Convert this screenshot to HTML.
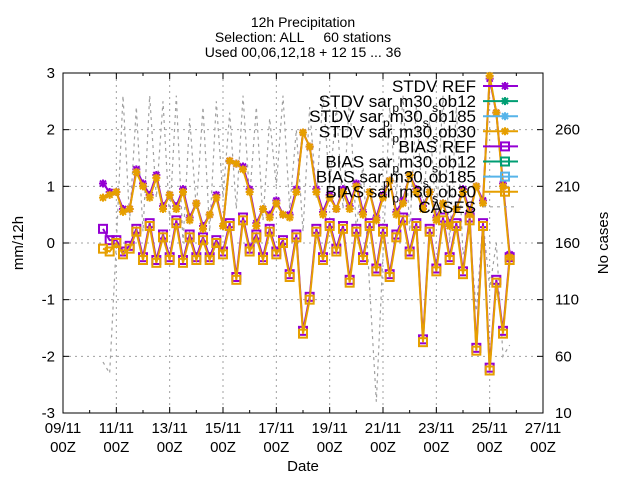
<!DOCTYPE html>
<html><head><meta charset="utf-8"><style>
body{margin:0;background:#fff}
svg{display:block;font-family:"Liberation Sans",sans-serif}
</style></head><body>
<svg id="c" width="640" height="480">
<rect width="640" height="480" fill="#fff"/>
<g id="grid"></g>
<g id="axes"></g>
<g id="series"></g>
<g id="legend"></g>
<text x="303" y="27" font-size="14" text-anchor="middle">12h Precipitation</text>
<text x="303" y="42" font-size="14" text-anchor="middle" xml:space="preserve">Selection: ALL     60 stations</text>
<text x="303" y="57" font-size="14" text-anchor="middle">Used 00,06,12,18 + 12 15 ... 36</text>
<text x="303" y="471" font-size="15" text-anchor="middle">Date</text>
<text transform="translate(23,243) rotate(-90)" font-size="15" text-anchor="middle">mm/12h</text>
<text transform="translate(608,243) rotate(-90)" font-size="15" text-anchor="middle">No cases</text>
</svg>
<script>
const xTickDays=[9,11,13,15,17,19,21,23,25,27];
const xTickLabels=["09/11","11/11","13/11","15/11","17/11","19/11","21/11","23/11","25/11","27/11"];
const yTicks=[-3,-2,-1,0,1,2,3];
const y2Ticks=[10,60,110,160,210,260];
const startDay=10.5, stepDay=0.25;
const stdvOb30=[0.8,0.85,0.9,0.55,0.6,1.25,1.0,0.8,1.15,0.6,0.85,0.6,0.9,0.4,0.7,0.25,0.5,0.8,0.3,1.45,1.4,1.3,0.9,0.3,0.6,0.45,0.7,0.5,0.45,0.9,1.95,1.7,0.9,0.5,0.8,0.6,0.9,0.6,1.0,0.5,0.9,0.4,0.8,1.1,0.5,0.7,1.2,0.9,0.6,0.9,0.4,0.7,0.3,0.6,0.9,0.5,1.0,0.7,2.95,2.3,1.0,-0.25];
const stdvRef=[1.05,0.9,0.9,0.6,0.6,1.3,1.05,0.85,1.2,0.65,0.85,0.65,0.95,0.45,0.7,0.3,0.5,0.85,0.3,1.45,1.4,1.35,0.95,0.35,0.6,0.5,0.75,0.5,0.5,0.95,1.95,1.7,0.95,0.55,0.85,0.6,0.95,0.65,1.05,0.55,0.9,0.45,0.85,1.1,0.55,0.75,1.2,0.95,0.65,0.9,0.45,0.7,0.35,0.6,0.95,0.55,1.0,0.75,2.9,2.3,1.05,-0.2];
const biasOb30=[-0.1,-0.15,0.0,-0.2,-0.1,0.2,-0.3,0.3,-0.35,0.1,-0.3,0.35,-0.35,0.1,-0.3,0.05,-0.3,0.0,-0.2,0.3,-0.65,0.4,-0.15,0.1,-0.3,0.2,-0.2,0.0,-0.6,0.1,-1.6,-1.0,0.2,-0.3,0.3,-0.15,0.25,-0.7,0.2,-0.3,0.3,-0.5,0.2,-0.6,0.1,0.4,-0.2,0.3,-1.75,0.2,-0.5,0.4,-0.3,0.3,-0.55,0.4,-1.9,0.3,-2.25,-0.7,-1.6,-0.3];
const biasRef=[0.25,0.05,0.05,-0.15,-0.05,0.25,-0.25,0.35,-0.3,0.15,-0.25,0.4,-0.3,0.15,-0.25,0.1,-0.25,0.05,-0.15,0.35,-0.6,0.45,-0.1,0.15,-0.25,0.25,-0.15,0.05,-0.55,0.15,-1.55,-0.95,0.25,-0.25,0.35,-0.1,0.3,-0.65,0.25,-0.25,0.35,-0.45,0.25,-0.55,0.15,0.45,-0.15,0.35,-1.7,0.25,-0.45,0.45,-0.25,0.35,-0.5,0.45,-1.85,0.35,-2.2,-0.65,-1.55,-0.25];
const cases=[55,45,160,290,180,280,170,290,200,285,180,290,160,270,190,280,170,285,200,275,190,290,200,280,180,270,210,290,190,260,170,280,200,290,210,280,190,290,170,230,120,20,150,280,200,290,170,280,190,270,180,290,160,280,150,170,100,180,120,160,60,70];

const NS="http://www.w3.org/2000/svg";
const L=63,R=543,T=73,B=413;
const xs=d=>L+(d-9)/18*(R-L);
const ys=v=>B-(v+3)/6*(B-T);
const y2s=v=>B-(v-10)/300*(B-T);
function mk(tag,parent,attrs){const e=document.createElementNS(NS,tag);for(const k in attrs)e.setAttribute(k,attrs[k]);parent.appendChild(e);return e;}
const grid=document.getElementById('grid'),axes=document.getElementById('axes'),ser=document.getElementById('series'),leg=document.getElementById('legend');

xTickDays.forEach((d,i)=>{const x=xs(d);
 if(i>0&&i<xTickDays.length-1){const g=mk('line',grid,{x1:x,x2:x,y1:T,y2:B,stroke:'#a0a0a0','stroke-dasharray':'2,4'});}
 mk('line',axes,{x1:x,x2:x,y1:B,y2:B-6,stroke:'#000'});mk('line',axes,{x1:x,x2:x,y1:T,y2:T+6,stroke:'#000'});
 const t=mk('text',axes,{x:x,y:433,'font-size':15,'text-anchor':'middle'});t.textContent=xTickLabels[i];
 
 const t2=mk('text',axes,{x:x,y:452,'font-size':15,'text-anchor':'middle'});t2.textContent='00Z';
 
});
for(let d=10;d<27;d+=2){mk('line',axes,{x1:xs(d),x2:xs(d),y1:B,y2:B-3,stroke:'#000'});mk('line',axes,{x1:xs(d),x2:xs(d),y1:T,y2:T+3,stroke:'#000'});}
yTicks.forEach(v=>{const y=ys(v);
 if(v>-3&&v<3){const g=mk('line',grid,{x1:L,x2:R,y1:y,y2:y,stroke:'#a0a0a0','stroke-dasharray':'2,4'});}
 mk('line',axes,{x1:L,x2:L+6,y1:y,y2:y,stroke:'#000'});
 const t=mk('text',axes,{x:L-8,y:y+5,'font-size':15,'text-anchor':'end'});t.textContent=v;
 
});
y2Ticks.forEach(v=>{const y=y2s(v);
 mk('line',axes,{x1:R,x2:R-6,y1:y,y2:y,stroke:'#000'});
 const t=mk('text',axes,{x:R+12,y:y+5,'font-size':15});t.textContent=v;
 
});
const fr=mk('rect',axes,{x:L,y:T,width:R-L,height:B-T,fill:'none',stroke:'#000'});


function star(p,x,y,c){mk('path',p,{d:`M${x-4} ${y}h8M${x} ${y-4}v8M${x-3} ${y-3}l6 6M${x-3} ${y+3}l6 -6`,stroke:c,'stroke-width':2,fill:'none'});}
function sq(p,x,y,c){mk('rect',p,{x:x-4,y:y-4,width:8,height:8,stroke:c,'stroke-width':2,fill:'none'});}
function series(arr,scale,color,marker,name,dash){
 const g=mk('g',ser,{});
 const pts=arr.map((v,i)=>[xs(startDay+i*stepDay),scale(v)]);
 const a={points:pts.map(p=>p.join(',')).join(' '),fill:'none',stroke:color,'stroke-width':dash?1.2:2};
 if(dash)a['stroke-dasharray']='3,4';
 mk('polyline',g,a);
 if(marker)pts.forEach(p=>marker(g,p[0],p[1],color));
}
series(cases,y2s,'#a0a0a0',null,'cases-line',true);
series(stdvRef,ys,'#9400d3',star,'stdv-ref-line');
series(biasRef,ys,'#9400d3',sq,'bias-ref-line');
series(stdvOb30,ys,'#e69f00',star,'stdv-ob30-line');
series(biasOb30,ys,'#e69f00',sq,'bias-ob30-line');

const legPre=["STDV","STDV","STDV","STDV","BIAS","BIAS","BIAS","BIAS","CASES"];
const legExp=["","ob12","ob185","ob30","","ob12","ob185","ob30",""];
const legColors=['#9400d3','#009e73','#56b4e9','#e69f00','#9400d3','#009e73','#56b4e9','#e69f00','#a0a0a0'];
legPre.forEach((n,i)=>{const y=86+i*15.1;
 const g=mk('g',leg,{});
 const t=mk('text',g,{x:476,y:y+6,'font-size':17,'text-anchor':'end'});
 if(legExp[i]===''){t.textContent=i==8?'CASES':n+' REF';}
 else{
  const parts=[[n+' sar',0],['p',1],['m30',0],['s',1],[legExp[i],0]];
  parts.forEach(p=>{const s=mk('tspan',t,{});s.textContent=p[0];if(p[1]){s.setAttribute('font-size','12');s.setAttribute('dy','5');}else if(s.previousSibling){s.setAttribute('dy','-5');}});
 }
 const la={x1:483,x2:518,y1:y,y2:y,stroke:legColors[i],'stroke-width':i==8?1.2:2};if(i==8)la['stroke-dasharray']='3,4';
 mk('line',g,la);
 if(i<4)star(g,505,y,legColors[i]);else if(i<8)sq(g,505,y,legColors[i]);
});
</script>
</body></html>
